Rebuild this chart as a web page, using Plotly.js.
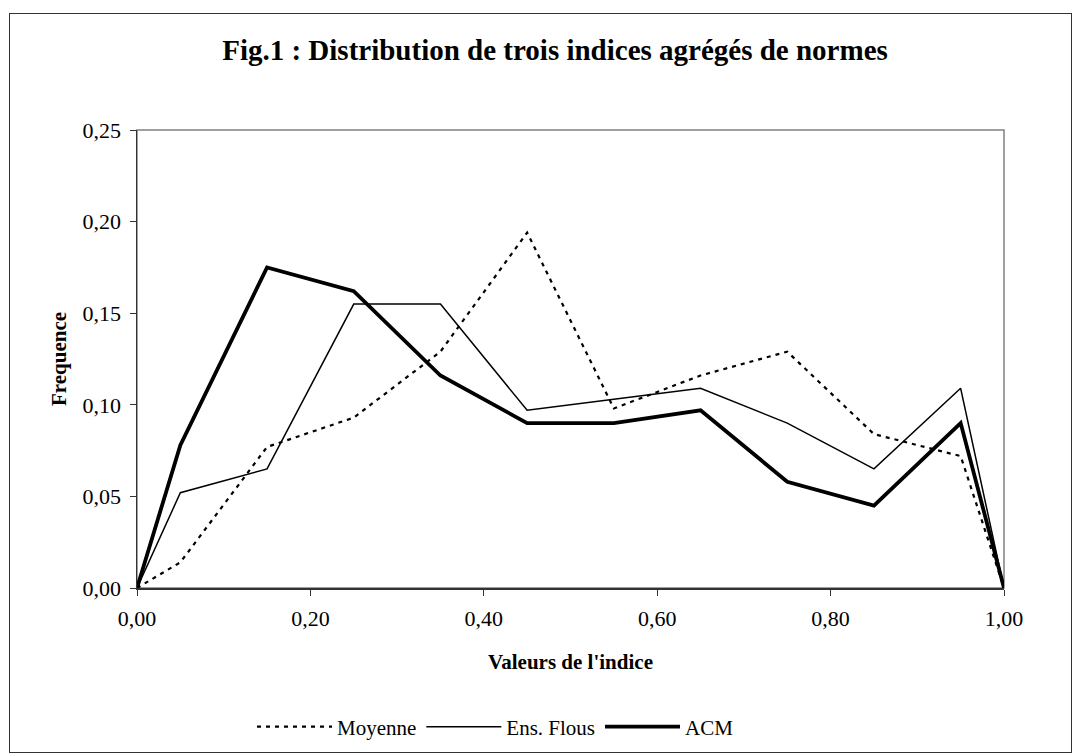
<!DOCTYPE html>
<html>
<head>
<meta charset="utf-8">
<script src="https://cdn.plot.ly/plotly-3.0.1.min.js"></script>
<style>
  html, body { margin: 0; padding: 0; background: #fff; }
  #wrap { position: relative; width: 1080px; height: 754px; }
  #chart { width: 1080px; height: 754px; }
  #frame { position: absolute; left: 9px; top: 13px; width: 1061px; height: 738px;
           border: 1.5px solid #333; pointer-events: none; }
</style>
</head>
<body>
<div id="wrap">
  <div id="chart"></div>
  <div id="frame"></div>
</div>
<script>
const xValues = [0, 0.05, 0.15, 0.25, 0.35, 0.45, 0.55, 0.65, 0.75, 0.85, 0.95, 1.0];
const moyenne = [0, 0.014, 0.077, 0.093, 0.129, 0.194, 0.098, 0.116, 0.129, 0.084, 0.072, 0];
const ensFlous = [0, 0.052, 0.065, 0.155, 0.155, 0.097, 0.103, 0.109, 0.090, 0.065, 0.109, 0];
const acm = [0, 0.078, 0.175, 0.162, 0.116, 0.090, 0.090, 0.097, 0.058, 0.045, 0.090, 0];
const xTicks = [0, 0.2, 0.4, 0.6, 0.8, 1.0];
const xTickLabels = ['0,00', '0,20', '0,40', '0,60', '0,80', '1,00'];
const yTicks = [0, 0.05, 0.10, 0.15, 0.20, 0.25];
const yTickLabels = ['0,00', '0,05', '0,10', '0,15', '0,20', '0,25'];

const serif = 'Liberation Serif, Times New Roman, serif';

const traces = [
  { x: xValues, y: moyenne, name: 'Moyenne', mode: 'lines',
    line: { color: '#000', width: 2.2, dash: '4px,5px' } },
  { x: xValues, y: ensFlous, name: 'Ens. Flous', mode: 'lines',
    line: { color: '#000', width: 1.5 } },
  { x: xValues, y: acm, name: 'ACM', mode: 'lines',
    line: { color: '#000', width: 3.8 } }
];

const layout = {
  width: 1080, height: 754,
  paper_bgcolor: '#fff', plot_bgcolor: '#fff',
  margin: { l: 137, r: 76, t: 130, b: 166 },
  font: { family: serif, size: 22, color: '#000' },
  title: { text: '<b>Fig.1 : Distribution de trois indices agrégés de normes</b>',
           font: { family: serif, size: 29, color: '#000' },
           x: 555 / 1080, xref: 'container', xanchor: 'center',
           y: 1 - 50 / 754, yanchor: 'middle' },
  xaxis: {
    range: [0, 1], tickvals: xTicks, ticktext: xTickLabels,
    showgrid: false, zeroline: false, showline: true, linecolor: '#333', linewidth: 1.5,
    ticks: 'outside', ticklen: 6, tickcolor: '#333', tickwidth: 1,
    ticklabelstandoff: 4,
    tickfont: { family: serif, size: 22 },
    title: { text: '<b>Valeurs de l\'indice</b>', font: { family: serif, size: 21 }, standoff: 24 }
  },
  yaxis: {
    range: [0, 0.25], tickvals: yTicks, ticktext: yTickLabels,
    showgrid: false, zeroline: false, showline: true, linecolor: '#333', linewidth: 1.5,
    ticks: 'outside', ticklen: 6, tickcolor: '#333', tickwidth: 1,
    ticklabelstandoff: 4,
    tickfont: { family: serif, size: 22 },
    title: { text: '<b>Frequence</b>', font: { family: serif, size: 21 }, standoff: 10 }
  },
  shapes: [
    { type: 'rect', xref: 'paper', yref: 'paper', x0: 0, x1: 1, y0: 0, y1: 1,
      line: { color: '#808080', width: 1.5 }, layer: 'below' }
  ],
  showlegend: true,
  legend: {
    orientation: 'h', x: 252 / 1080, xref: 'container', xanchor: 'left',
    y: 1 - 727 / 754, yref: 'container', yanchor: 'middle',
    font: { family: serif, size: 21 }, itemwidth: 75,
    bgcolor: 'rgba(0,0,0,0)', traceorder: 'normal'
  }
};

Plotly.newPlot('chart', traces, layout, { displayModeBar: false, staticPlot: true });
</script>
</body>
</html>
